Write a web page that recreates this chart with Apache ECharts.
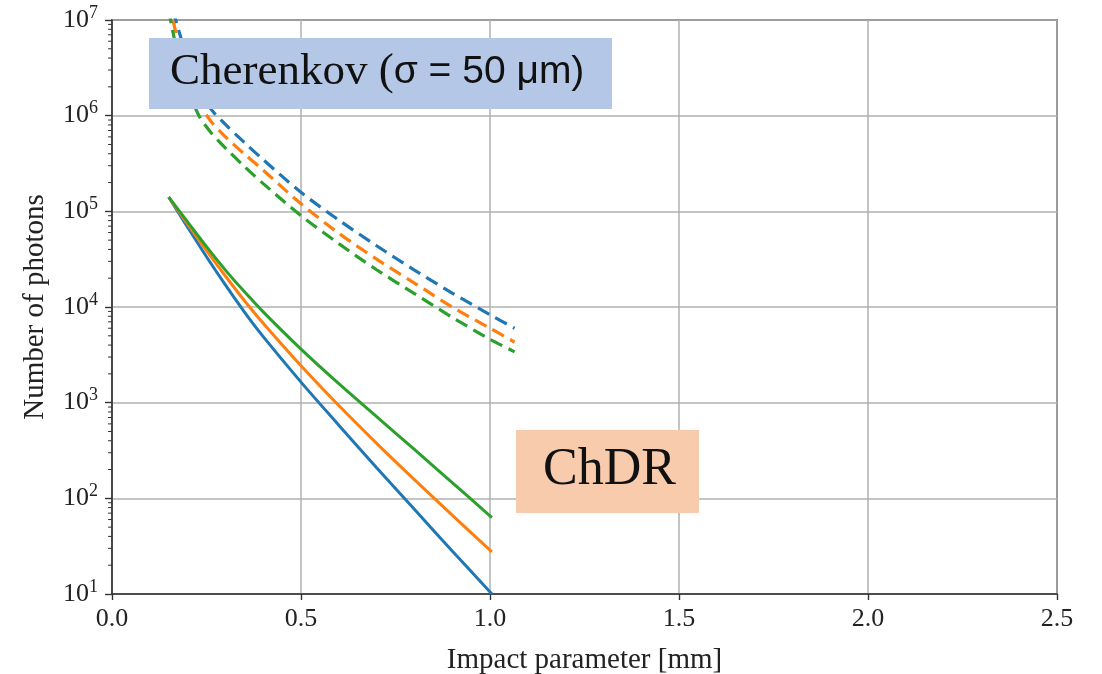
<!DOCTYPE html>
<html>
<head>
<meta charset="utf-8">
<script src="https://cdn.jsdelivr.net/npm/echarts@6/dist/echarts.min.js"></script>
<style>
  html, body { margin: 0; padding: 0; background: #ffffff; }
  #chart { width: 1102px; height: 674px; }
</style>
</head>
<body>
<div id="chart"></div>
<script>
// ---- data ----
const xTicks = [0, 0.5, 1.0, 1.5, 2.0, 2.5];
const yMinorTicks = [];
[10, 100, 1e3, 1e4, 1e5, 1e6].forEach(function (d) { [2,3,4,5,6,7,8,9].forEach(function (m) { yMinorTicks.push(m * d); }); });

// ChDR (solid lines)
const chdrX      = [0.15, 0.2, 0.25, 0.3, 0.35, 0.4, 0.5, 0.6, 0.7, 0.8, 0.9, 1.005];
const chdrBlue   = [1.41e5, 6.84e4, 3.35e4, 1.7e4, 8.9e3, 4.9e3, 1.64e3, 582, 209, 76.7, 28.2, 10];
const chdrOrange = [1.41e5, 7.33e4, 3.89e4, 2.11e4, 1.17e4, 6.76e3, 2.43e3, 933, 376, 157, 66.8, 27.5];
const chdrGreen  = [1.41e5, 7.76e4, 4.27e4, 2.43e4, 1.45e4, 8.9e3, 3.63e3, 1.58e3, 716, 324, 146, 63];

// Cherenkov (dashed lines)
const cherX      = [0.15, 0.17, 0.2, 0.23, 0.26, 0.3, 0.35, 0.4, 0.5, 0.6, 0.7, 0.8, 0.9, 1.0, 1.065];
const cherBlue   = [2.0e7, 9.5e6, 4.0e6, 2.0e6, 1.2e6, 8.1e5, 5.25e5, 3.47e5, 1.58e5, 8.1e4, 4.37e4, 2.43e4, 1.4e4, 8.3e3, 6.0e3];
const cherOrange = [1.58e7, 7.2e6, 2.95e6, 1.41e6, 8.9e5, 6.0e5, 3.98e5, 2.69e5, 1.2e5, 5.9e4, 3.16e4, 1.78e4, 1.0e4, 6.0e3, 4.3e3];
const cherGreen  = [1.26e7, 5.2e6, 2.0e6, 1.0e6, 6.8e5, 4.6e5, 2.95e5, 1.95e5, 9.0e4, 4.6e4, 2.45e4, 1.38e4, 7.8e3, 4.6e3, 3.4e3];

const colors = { blue: '#1f77b4', orange: '#ff7f0e', green: '#2ca02c' };
const serif = '"Liberation Serif", "DejaVu Serif", serif';
const frame = '#333333';

function pairs(xs, ys) { return xs.map(function (x, i) { return [x, ys[i]]; }); }

function solid(name, xs, ys, color) {
  return { name: name, type: 'line', data: pairs(xs, ys), showSymbol: false, smooth: 0.3,
    lineStyle: { color: color, width: 3 }, z: 3 };
}
function dashed(name, xs, ys, color) {
  return { name: name, type: 'line', data: pairs(xs, ys), showSymbol: false, smooth: 0.3, clip: true,
    lineStyle: { color: color, width: 3.2, type: [13, 7], cap: 'butt' }, z: 3 };
}

const chart = echarts.init(document.getElementById('chart'), null, { renderer: 'canvas' });
chart.setOption({
  animation: false,
  backgroundColor: '#ffffff',
  grid: { left: 112, right: 45, top: 20, bottom: 80, outerBoundsMode: 'none', containLabel: false,
    show: true, borderColor: frame, borderWidth: 1.6, backgroundColor: 'transparent' },
  xAxis: {
    type: 'value', min: 0, max: 2.5, interval: 0.5,
    name: 'Impact parameter [mm]', nameLocation: 'middle', nameGap: 52,
    nameTextStyle: { fontFamily: serif, fontSize: 29, color: '#222' },
    axisLine: { show: true, lineStyle: { color: frame, width: 1.6 } },
    axisTick: { show: true, length: 6, lineStyle: { color: frame, width: 1.4 } },
    axisLabel: { fontFamily: serif, fontSize: 26, color: '#222', margin: 12,
      formatter: function (v) { return v.toFixed(1); } },
    splitLine: { show: true, lineStyle: { color: '#b0b0b0', width: 1.5 } }
  },
  yAxis: {
    type: 'log', logBase: 10, min: 10, max: 1e7,
    name: 'Number of photons', nameLocation: 'middle', nameGap: 62, nameRotate: 90,
    nameTextStyle: { fontFamily: serif, fontSize: 29, color: '#222' },
    axisLine: { show: true, lineStyle: { color: frame, width: 1.6 } },
    axisTick: { show: true, length: 7, lineStyle: { color: frame, width: 1.4 } },
    axisLabel: { margin: 14, color: '#222',
      formatter: function (v) { return '{b|10}{s|' + Math.round(Math.log10(v)) + '}'; },
      rich: {
        b: { fontFamily: serif, fontSize: 26, color: '#222' },
        s: { fontFamily: serif, fontSize: 18, color: '#222', padding: [0, 0, 14, 0] }
      } },
    splitLine: { show: true, lineStyle: { color: '#b0b0b0', width: 1.5 } }
  },
  series: [
    solid('ChDR blue', chdrX, chdrBlue, colors.blue),
    solid('ChDR orange', chdrX, chdrOrange, colors.orange),
    solid('ChDR green', chdrX, chdrGreen, colors.green),
    dashed('Cherenkov blue', cherX, cherBlue, colors.blue),
    dashed('Cherenkov orange', cherX, cherOrange, colors.orange),
    dashed('Cherenkov green', cherX, cherGreen, colors.green),
    {
      name: 'minor ticks', type: 'custom', silent: true, z: 5, clip: false,
      data: yMinorTicks.map(function (v) { return [0, v]; }),
      renderItem: function (params, api) {
        const p = api.coord([api.value(0), api.value(1)]);
        return { type: 'line', shape: { x1: p[0] - 4, y1: p[1], x2: p[0], y2: p[1] },
          style: { stroke: frame, lineWidth: 1 } };
      }
    }
  ],
  graphic: [
    { type: 'rect', z: 100, shape: { x: 149, y: 38, width: 463, height: 71 }, style: { fill: '#b4c7e7' } },
    { type: 'text', z: 101, left: 170, top: 50,
      style: { text: '{a|Cherenkov (}{c|σ = 50 μm)}', rich: {
        a: { fontFamily: serif, fontSize: 45, fill: '#111' },
        c: { fontFamily: '"Liberation Sans", Arial, sans-serif', fontSize: 39, fill: '#111' } } } },
    { type: 'rect', z: 100, shape: { x: 516, y: 430, width: 183, height: 83 }, style: { fill: '#f8cbad' } },
    { type: 'text', z: 101, left: 543, top: 444,
      style: { text: 'ChDR', fontFamily: serif, fontSize: 52, fill: '#111' } }
  ]
});
</script>
</body>
</html>
